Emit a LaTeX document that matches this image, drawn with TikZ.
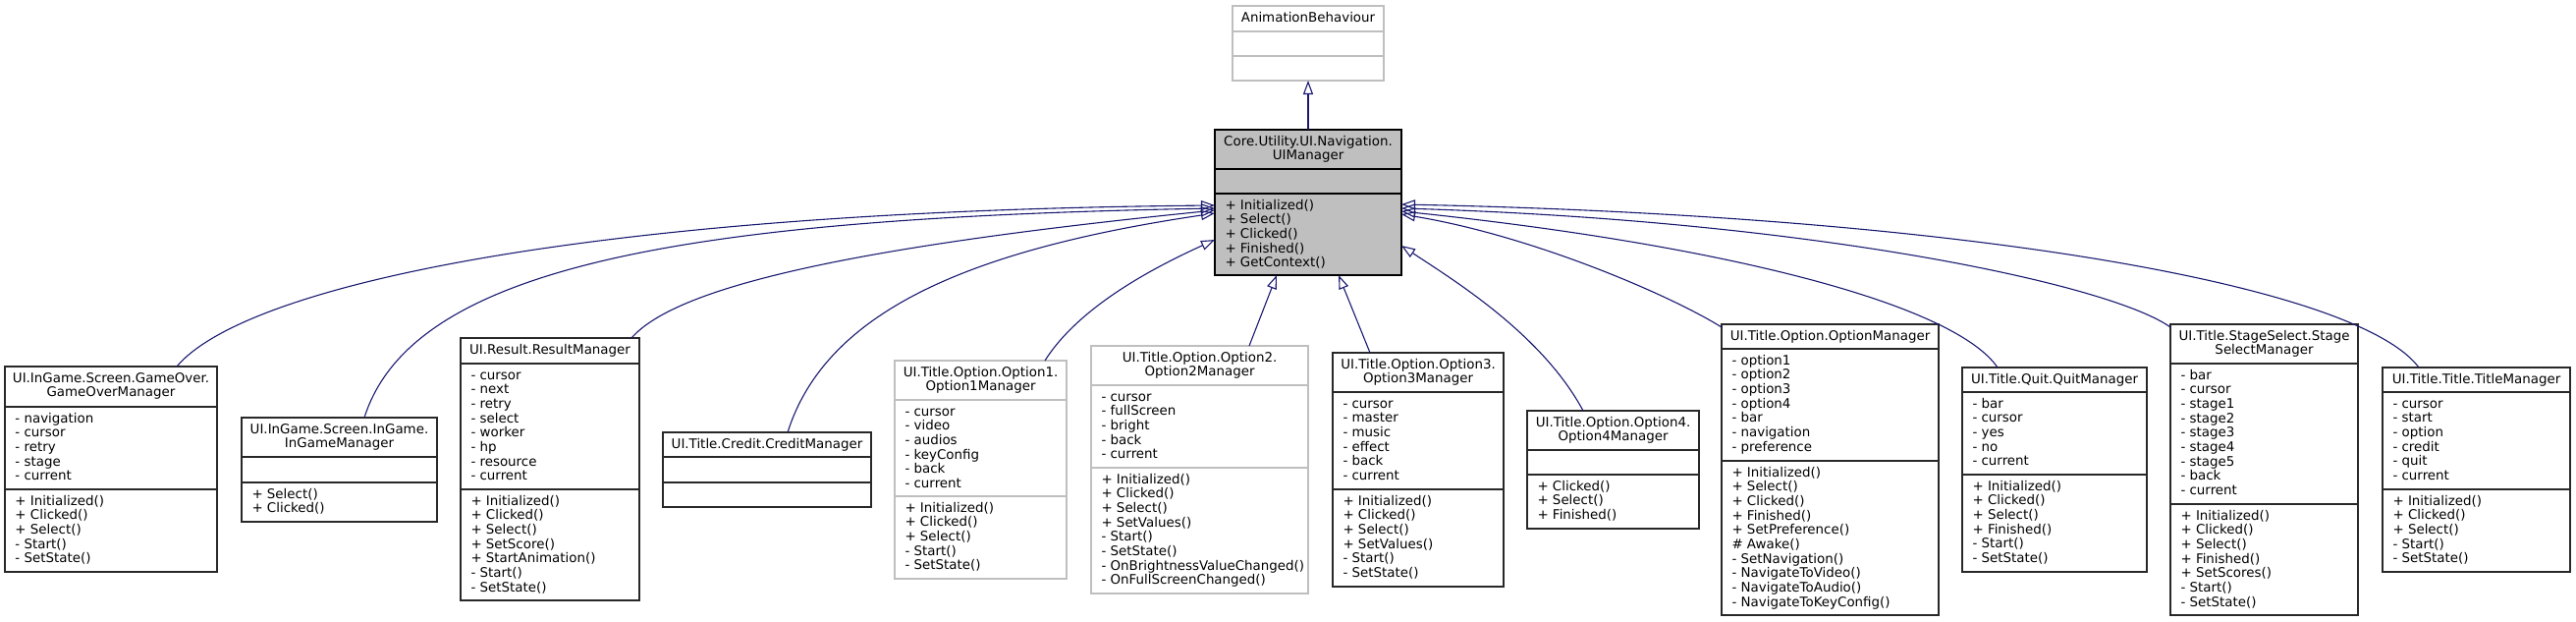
\documentclass[tikz,border=0pt]{standalone}
\usepackage{fontspec}
\setmainfont{DejaVu Sans}
\usetikzlibrary{arrows.meta}
\definecolor{midnightblue}{RGB}{25,25,112}
\definecolor{grey75}{RGB}{191,191,191}
\definecolor{boxline}{RGB}{40,40,40}
% #1 name, #2 style, #3 x1, #4 x2, #5 ytop, #6 div1, #7 div2, #8 ybot
\newcommand\umlcls[8]{%
  \node[#2, anchor=north west, minimum width={(#4)-(#3)}, minimum height={(#8)-(#5)}] (#1) at (#3,#5) {};
  \draw[#2div] (#3,#6) -- (#4,#6) (#3,#7) -- (#4,#7);
}
% #1 name, #2 x1, #3 x2, #4 ytop, #5 lines
\newcommand\umltitle[5]{%
  \foreach \itm [count=\i] in {#5} {
    \node[txt, anchor=base] (#1-t\i) at ({(#2+#3)/2},{#4+16+(\i-1)*14.7}) {\itm};
  }
}
% #1 name, #2 x1, #3 divider y, #4 lines
\newcommand\umllist[4]{%
  \foreach \itm [count=\i] in {#4} {
    \node[txt, anchor=base west] (#1-\i) at ({#2+10.5},{#3+16+(\i-1)*14.7}) {\itm};
  }
}
\begin{document}
\begin{tikzpicture}[x=1pt, y=-1pt,
  txt/.style={inner sep=0pt, outer sep=0pt, font=\fontsize{13.4}{15}\selectfont, text=black},
  bk/.style={draw=boxline, line width=1.2pt, fill=white, inner sep=0pt, outer sep=0pt},
  bkdiv/.style={draw=boxline, line width=1.2pt},
  gy/.style={draw=grey75, line width=1.2pt, fill=white, inner sep=0pt, outer sep=0pt},
  gydiv/.style={draw=grey75, line width=1.2pt},
  gf/.style={draw=black, line width=1.2pt, fill=grey75, inner sep=0pt, outer sep=0pt},
  gfdiv/.style={draw=black, line width=1.2pt},
  edge/.style={draw=midnightblue, line width=1.1pt, -{Triangle[open, length=14pt, width=10pt]}}]
\useasboundingbox (0,0) rectangle (2623,632);

% parents
\umlcls{ab}{gy}{1255}{1409}{6}{32}{57}{82}
\umltitle{ab}{1255}{1409}{6}{AnimationBehaviour}

\umlcls{ui}{gf}{1237}{1427}{132}{172}{197}{280}
\umltitle{ui}{1237}{1427}{132}{Core.Utility.UI.Navigation., UIManager}
\umllist{ui-m}{1237}{197}{+ Initialized(), + Select(), + Clicked(), + Finished(), + GetContext()}

% children
\umlcls{go}{bk}{5}{221}{373}{414}{498}{582}
\umltitle{go}{5}{221}{373}{UI.InGame.Screen.GameOver., GameOverManager}
\umllist{go-a}{5}{414}{- navigation, - cursor, - retry, - stage, - current}
\umllist{go-m}{5}{498}{+ Initialized(), + Clicked(), + Select(), - Start(), - SetState()}

\umlcls{ig}{bk}{246}{445}{425}{465}{491}{531}
\umltitle{ig}{246}{445}{425}{UI.InGame.Screen.InGame., InGameManager}
\umllist{ig-m}{246}{491}{+ Select(), + Clicked()}

\umlcls{rs}{bk}{469}{651}{344}{370}{498}{611}
\umltitle{rs}{469}{651}{344}{UI.Result.ResultManager}
\umllist{rs-a}{469}{370}{- cursor, - next, - retry, - select, - worker, - hp, - resource, - current}
\umllist{rs-m}{469}{498}{+ Initialized(), + Clicked(), + Select(), + SetScore(), + StartAnimation(), - Start(), - SetState()}

\umlcls{cr}{bk}{675}{887}{440}{465}{491}{516}
\umltitle{cr}{675}{887}{440}{UI.Title.Credit.CreditManager}

\umlcls{o1}{gy}{911}{1086}{367}{407}{505}{589}
\umltitle{o1}{911}{1086}{367}{UI.Title.Option.Option1., Option1Manager}
\umllist{o1-a}{911}{407}{- cursor, - video, - audios, - keyConfig, - back, - current}
\umllist{o1-m}{911}{505}{+ Initialized(), + Clicked(), + Select(), - Start(), - SetState()}

\umlcls{o2}{gy}{1111}{1332}{352}{392}{476}{604}
\umltitle{o2}{1111}{1332}{352}{UI.Title.Option.Option2., Option2Manager}
\umllist{o2-a}{1111}{392}{- cursor, - fullScreen, - bright, - back, - current}
\umllist{o2-m}{1111}{476}{+ Initialized(), + Clicked(), + Select(), + SetValues(), - Start(), - SetState(), - OnBrightnessValueChanged(), - OnFullScreenChanged()}

\umlcls{o3}{bk}{1357}{1531}{359}{399}{498}{597}
\umltitle{o3}{1357}{1531}{359}{UI.Title.Option.Option3., Option3Manager}
\umllist{o3-a}{1357}{399}{- cursor, - master, - music, - effect, - back, - current}
\umllist{o3-m}{1357}{498}{+ Initialized(), + Clicked(), + Select(), + SetValues(), - Start(), - SetState()}

\umlcls{o4}{bk}{1555}{1730}{418}{458}{483}{538}
\umltitle{o4}{1555}{1730}{418}{UI.Title.Option.Option4., Option4Manager}
\umllist{o4-m}{1555}{483}{+ Clicked(), + Select(), + Finished()}

\umlcls{om}{bk}{1753}{1974}{330}{355}{469}{626}
\umltitle{om}{1753}{1974}{330}{UI.Title.Option.OptionManager}
\umllist{om-a}{1753}{355}{- option1, - option2, - option3, - option4, - bar, - navigation, - preference}
\umllist{om-m}{1753}{469}{+ Initialized(), + Select(), + Clicked(), + Finished(), + SetPreference(), \# Awake(), - SetNavigation(), - NavigateToVideo(), - NavigateToAudio(), - NavigateToKeyConfig()}

\umlcls{qt}{bk}{1998}{2186}{374}{399}{483}{582}
\umltitle{qt}{1998}{2186}{374}{UI.Title.Quit.QuitManager}
\umllist{qt-a}{1998}{399}{- bar, - cursor, - yes, - no, - current}
\umllist{qt-m}{1998}{483}{+ Initialized(), + Clicked(), + Select(), + Finished(), - Start(), - SetState()}

\umlcls{ss}{bk}{2210}{2401}{330}{370}{513}{626}
\umltitle{ss}{2210}{2401}{330}{UI.Title.StageSelect.Stage, SelectManager}
\umllist{ss-a}{2210}{370}{- bar, - cursor, - stage1, - stage2, - stage3, - stage4, - stage5, - back, - current}
\umllist{ss-m}{2210}{513}{+ Initialized(), + Clicked(), + Select(), + Finished(), + SetScores(), - Start(), - SetState()}

\umlcls{tt}{bk}{2426}{2617}{374}{399}{498}{582}
\umltitle{tt}{2426}{2617}{374}{UI.Title.Title.TitleManager}
\umllist{tt-a}{2426}{399}{- cursor, - start, - option, - credit, - quit, - current}
\umllist{tt-m}{2426}{498}{+ Initialized(), + Clicked(), + Select(), - Start(), - SetState()}

% connectors
\draw[edge] (ui.north) -- (ab.south);
\draw[edge] ([xshift=175pt]go.north west) .. controls (250,290) and (600,215) .. ([yshift=-77pt]ui.north west);
\draw[edge] ([xshift=125pt]ig.north west) .. controls (420,270) and (700,222) .. ([yshift=-80pt]ui.north west);
\draw[edge] ([xshift=174pt]rs.north west) .. controls (690,290) and (880,250) .. ([yshift=-82pt]ui.north west);
\draw[edge] ([xshift=127pt]cr.north west) .. controls (840,320) and (980,255) .. ([yshift=-85pt]ui.north west);
\draw[edge] ([xshift=153pt]o1.north west) .. controls (1100,310) and (1180,270) .. ([yshift=-112pt]ui.north west);
\draw[edge] ([xshift=161pt]o2.north west) -- ([xshift=63pt]ui.south west);
\draw[edge] ([xshift=38pt]o3.north west) -- ([xshift=126pt]ui.south west);
\draw[edge] ([xshift=57pt]o4.north west) .. controls (1570,340) and (1480,285) .. ([yshift=-118pt]ui.north east);
\draw[edge] ([yshift=-3pt]om.north west) .. controls (1700,300) and (1560,240) .. ([yshift=-86pt]ui.north east);
\draw[edge] ([xshift=36pt]qt.north west) .. controls (1990,310) and (1760,250) .. ([yshift=-83pt]ui.north east);
\draw[edge] ([yshift=-3pt]ss.north west) .. controls (2150,290) and (1850,225) .. ([yshift=-80pt]ui.north east);
\draw[edge] ([xshift=37pt]tt.north west) .. controls (2400,290) and (2000,220) .. ([yshift=-76pt]ui.north east);
\end{tikzpicture}
\end{document}
